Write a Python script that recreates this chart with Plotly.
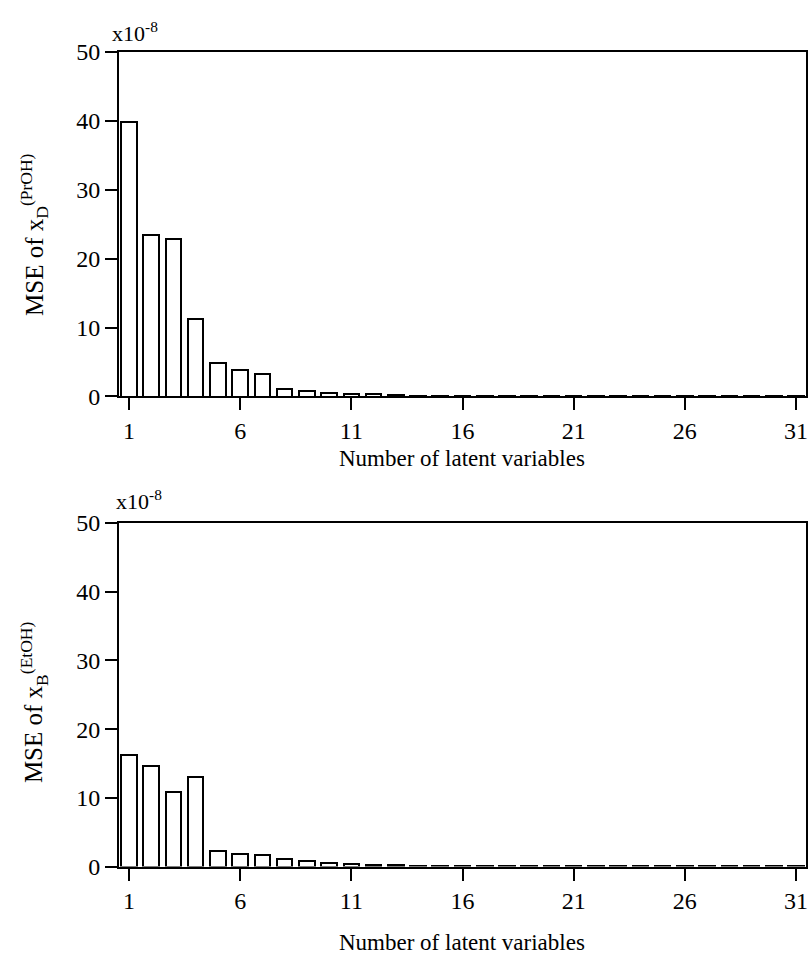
import plotly.graph_objects as go

latent = list(range(1, 32))
mse_top = [39.8, 23.4, 22.9, 11.3, 4.8, 3.8, 3.3, 1.1, 0.8, 0.5, 0.4, 0.3, 0.2, 0.15, 0.1,
           0.08, 0.06, 0.05, 0.05, 0.05, 0.05, 0.05, 0.05, 0.05, 0.05, 0.05, 0.05, 0.05, 0.05, 0.05, 0.05]
mse_bot = [16.2, 14.6, 10.9, 13.0, 2.2, 1.9, 1.7, 1.1, 0.8, 0.5, 0.4, 0.3, 0.2, 0.08, 0.06,
           0.05, 0.05, 0.05, 0.05, 0.05, 0.05, 0.05, 0.05, 0.05, 0.05, 0.05, 0.05, 0.05, 0.05, 0.05, 0.05]
y_ticks = [0, 10, 20, 30, 40, 50]
x_ticks = [1, 6, 11, 16, 21, 26, 31]

W, H = 809, 975
ML, MR = 119, 3
PW = W - ML - MR
FONT = "Liberation Serif"

fig = go.Figure()
fig.add_trace(go.Bar(x=latent, y=mse_top, width=0.7, xaxis="x", yaxis="y",
                     marker=dict(color="white", line=dict(color="black", width=2)), showlegend=False))
fig.add_trace(go.Bar(x=latent, y=mse_bot, width=0.7, xaxis="x2", yaxis="y2",
                     marker=dict(color="white", line=dict(color="black", width=2)), showlegend=False))

def py(y):
    return (H - y) / H

def px(x):
    return (x - ML) / PW

ax_common = dict(showgrid=False, zeroline=False, showline=True, linecolor="black", linewidth=2,
                 mirror=True, ticks="outside", ticklen=12, tickwidth=2, tickcolor="black",
                 tickfont=dict(family=FONT, size=24, color="black"))

xax = dict(ax_common, range=[0.55, 31.45], tickvals=x_ticks, ticktext=[str(t) for t in x_ticks])
yax = dict(ax_common, range=[0, 50], tickvals=y_ticks, ticktext=[str(t) for t in y_ticks])

fig.update_layout(
    width=W, height=H,
    margin=dict(l=ML, r=MR, t=0, b=0),
    paper_bgcolor="white", plot_bgcolor="white",
    bargap=0,
    xaxis=dict(xax, domain=[0, 1], anchor="y"),
    yaxis=dict(yax, domain=[py(394), py(40)], anchor="x"),
    xaxis2=dict(xax, domain=[0, 1], anchor="y2"),
    yaxis2=dict(yax, domain=[py(877), py(524)], anchor="x2"),
)

ann = []
for (xx, ytxt), ytitle, yc, ttl in [((110, 20), 458, 228, "MSE of x<sub>D</sub><sup>(PrOH)</sup>"),
                                     ((114, 500), 955, 708, "MSE of x<sub>B</sub><sup>(EtOH)</sup>")]:
    ann.append(dict(text="x10<sup>-8</sup>", x=px(xx), y=py(ytxt), xref="paper", yref="paper",
                    xanchor="left", yanchor="middle", showarrow=False,
                    font=dict(family=FONT, size=22, color="black")))
    ann.append(dict(text="Number of latent variables", x=px(462), y=py(ytitle),
                    xref="paper", yref="paper", xanchor="center", yanchor="middle", showarrow=False,
                    font=dict(family=FONT, size=23, color="black")))
    ann.append(dict(text=ttl, x=px(34), y=py(yc), xref="paper", yref="paper",
                    xanchor="center", yanchor="middle", textangle=-90, showarrow=False,
                    font=dict(family=FONT, size=25, color="black")))
fig.update_layout(annotations=ann)

fig.write_html("out.html")
